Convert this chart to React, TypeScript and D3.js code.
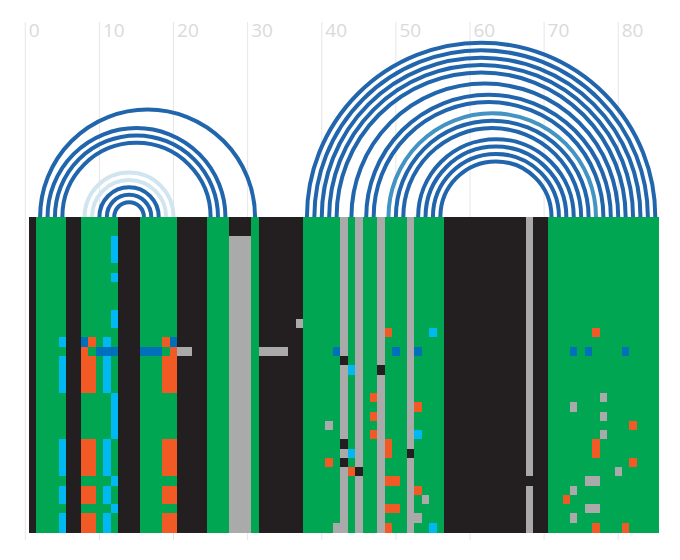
import React from "react";
import * as d3 from "d3";

// ---------- DATA ----------
const tickValues = [0, 10, 20, 30, 40, 50, 60, 70, 80];
const rowCount = 34;

// base state of each of the 85 alignment columns (K = unpaired/black, G = paired/green, - = gap/grey)
const baseColumns =
  "K" + "GGGG" + "KK" + "GGGGG" + "KKK" + "GGGGG" + "KKKK" + "GGG" + "---" + "G" +
  "KKKKKK" + "GGGGG" + "-" + "G" + "-" + "GG" + "-" + "GGG" + "-" + "GGGG" +
  "KKKKKKKKKKK" + "-" + "KK" + "GGGGGGGGGGGGGGG";

// rows sharing the same variant block
const variantRows = [15, 16, 17, 18, 24, 25, 26, 27, 29, 30, 32, 33];
const variantCells: [number, number, string][] = [
  [4, 4, "C"],
  [7, 8, "O"],
  [10, 10, "C"],
  [18, 19, "O"],
];

// [rowStart, rowEnd, colStart, colEnd, code]
const overrides: [number, number, number, number, string][] = [
  [0, 1, 27, 29, "K"],
  [2, 4, 11, 11, "C"],
  [6, 6, 11, 11, "C"],
  [10, 11, 11, 11, "C"],
  [19, 23, 11, 11, "C"],
  [28, 28, 11, 11, "C"],
  [31, 31, 11, 11, "C"],
  [11, 11, 36, 36, "-"],
  [12, 12, 48, 48, "O"],
  [12, 12, 54, 54, "C"],
  [12, 12, 76, 76, "O"],
  [13, 13, 4, 4, "C"],
  [13, 13, 7, 7, "B"],
  [13, 13, 8, 8, "O"],
  [13, 13, 10, 10, "C"],
  [13, 13, 18, 18, "O"],
  [13, 13, 19, 19, "B"],
  [14, 14, 7, 7, "O"],
  [14, 14, 9, 11, "B"],
  [14, 14, 15, 17, "B"],
  [14, 14, 19, 19, "O"],
  [14, 14, 20, 21, "-"],
  [14, 14, 31, 34, "-"],
  [14, 14, 41, 41, "B"],
  [14, 14, 49, 49, "B"],
  [14, 14, 52, 52, "B"],
  [14, 14, 73, 73, "B"],
  [14, 14, 75, 75, "B"],
  [14, 14, 80, 80, "B"],
  [15, 15, 42, 42, "K"],
  [16, 16, 43, 43, "C"],
  [16, 16, 47, 47, "K"],
  [19, 19, 46, 46, "O"],
  [19, 19, 77, 77, "-"],
  [20, 20, 52, 52, "O"],
  [20, 20, 73, 73, "-"],
  [21, 21, 46, 46, "O"],
  [21, 21, 77, 77, "-"],
  [22, 22, 40, 40, "-"],
  [22, 22, 81, 81, "O"],
  [23, 23, 46, 46, "O"],
  [23, 23, 52, 52, "C"],
  [23, 23, 77, 77, "-"],
  [24, 25, 48, 48, "O"],
  [24, 25, 76, 76, "O"],
  [24, 24, 42, 42, "K"],
  [25, 25, 43, 43, "C"],
  [25, 25, 51, 51, "K"],
  [26, 26, 40, 40, "O"],
  [26, 26, 42, 42, "K"],
  [26, 26, 81, 81, "O"],
  [27, 27, 43, 43, "O"],
  [27, 27, 44, 44, "K"],
  [27, 27, 79, 79, "-"],
  [28, 28, 48, 49, "O"],
  [28, 28, 67, 67, "K"],
  [28, 28, 75, 76, "-"],
  [29, 29, 52, 52, "O"],
  [29, 29, 73, 73, "-"],
  [30, 30, 53, 53, "-"],
  [30, 30, 72, 72, "O"],
  [31, 31, 48, 49, "O"],
  [31, 31, 75, 76, "-"],
  [32, 32, 52, 52, "-"],
  [32, 32, 73, 73, "-"],
  [33, 33, 41, 41, "-"],
  [33, 33, 48, 48, "O"],
  [33, 33, 54, 54, "C"],
  [33, 33, 76, 76, "O"],
  [33, 33, 80, 80, "O"],
];

// base pairs (column indices, 0-based) and conservation level
const arcPairs: [number, number, string][] = [
  [1, 30, "dark"],
  [2, 26, "dark"],
  [3, 25, "dark"],
  [4, 24, "dark"],
  [7, 19, "pale"],
  [8, 18, "pale"],
  [9, 17, "dark"],
  [10, 16, "dark"],
  [11, 15, "dark"],
  [37, 84, "dark"],
  [38, 83, "dark"],
  [39, 82, "dark"],
  [40, 81, "dark"],
  [41, 80, "dark"],
  [43, 79, "dark"],
  [45, 78, "dark"],
  [46, 77, "dark"],
  [48, 76, "mid"],
  [49, 75, "dark"],
  [50, 74, "dark"],
  [52, 73, "dark"],
  [53, 72, "dark"],
  [54, 71, "dark"],
  [55, 70, "dark"],
];

const cellColors: Record<string, string> = {
  G: "#00a651",
  K: "#231f20",
  "-": "#aaaaaa",
  O: "#f15a24",
  C: "#00b9f2",
  B: "#0070ba",
};
const arcColors: Record<string, string> = {
  dark: "#2166ac",
  mid: "#4393c3",
  pale: "#d1e5f0",
};

// ---------- LAYOUT ----------
const W = 680;
const H = 560;
const gridTop = 217;
const gridBottom = 532;

export default function App() {
  const x = d3.scaleLinear().domain([0, 85.5]).range([25.3, 659]);
  const y = d3
    .scaleBand<number>()
    .domain(d3.range(rowCount))
    .range([gridTop, gridBottom])
    .padding(0);

  // build matrix
  const matrix: string[][] = d3.range(rowCount).map(() => baseColumns.split(""));
  variantRows.forEach((r) =>
    variantCells.forEach(([c0, c1, code]) => {
      for (let c = c0; c <= c1; c++) matrix[r][c] = code;
    })
  );
  overrides.forEach(([r0, r1, c0, c1, code]) => {
    for (let r = r0; r <= r1; r++)
      for (let c = c0; c <= c1; c++) matrix[r][c] = code;
  });

  // merge runs per row
  const runs: { r: number; c0: number; c1: number; code: string }[] = [];
  matrix.forEach((row, r) => {
    let start = 0;
    for (let c = 1; c <= row.length; c++) {
      if (c === row.length || row[c] !== row[start]) {
        runs.push({ r, c0: start, c1: c - 1, code: row[start] });
        start = c;
      }
    }
  });

  const colX0 = (c: number) => x(c + 0.5);
  const colX1 = (c: number) => x(c + 1.5);
  const colMid = (c: number) => x(c + 1);

  const arcPath = (a: number, b: number) => {
    const x1 = colMid(a);
    const x2 = colMid(b);
    const cx = (x1 + x2) / 2;
    const r = (x2 - x1) / 2;
    const p = d3.path();
    p.moveTo(x1, gridTop);
    p.arc(cx, gridTop, r, Math.PI, 2 * Math.PI);
    return p.toString();
  };

  return (
    <svg
      width={W}
      height={H}
      style={{ position: "absolute", left: 0, top: 0, background: "#fff" }}
    >
      <g>
        {tickValues.map((t) => (
          <g key={t}>
            <line
              x1={x(t)}
              x2={x(t)}
              y1={22}
              y2={540}
              stroke="#e6e6e6"
              strokeWidth={1}
            />
            <text
              x={x(t) + 3.5}
              y={37}
              fontFamily="'Open Sans', sans-serif"
              fontSize={19}
              fill="#dadada"
            >
              {t}
            </text>
          </g>
        ))}
      </g>
      <g fill="none">
        {arcPairs.map(([a, b, lvl], i) => (
          <path
            key={i}
            d={arcPath(a, b)}
            stroke={arcColors[lvl]}
            strokeWidth={4}
          />
        ))}
      </g>
      <g shapeRendering="crispEdges">
        {runs.map((d, i) => (
          <rect
            key={i}
            x={colX0(d.c0)}
            y={y(d.r)!}
            width={colX1(d.c1) - colX0(d.c0)}
            height={y.bandwidth() + 0.5}
            fill={cellColors[d.code]}
          />
        ))}
      </g>
    </svg>
  );
}
